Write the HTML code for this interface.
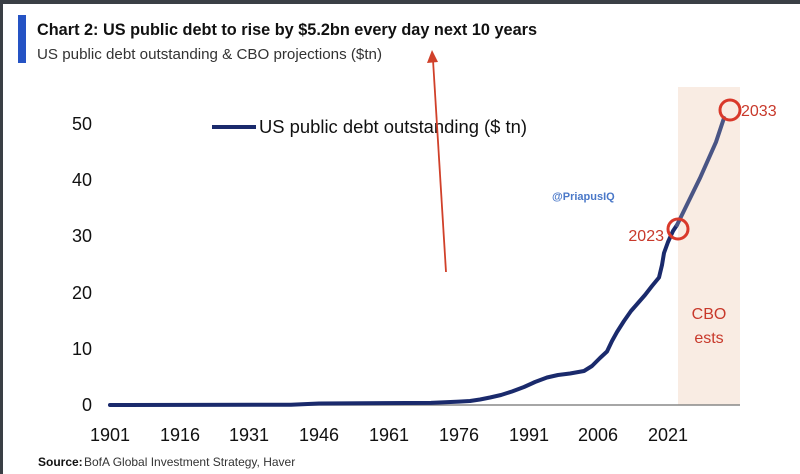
<!DOCTYPE html>
<html><head><meta charset="utf-8"><style>
body{margin:0;background:#fff;}
svg{display:block;font-family:"Liberation Sans",sans-serif;}
</style></head><body>
<svg width="800" height="474" viewBox="0 0 800 474">
<rect width="800" height="474" fill="#fff"/>
<rect x="0" y="0" width="800" height="4" fill="#3a3f45"/>
<rect x="0" y="0" width="3" height="474" fill="#3a3f45"/>
<rect x="18" y="15" width="8" height="48" fill="#2553c4"/>
<text x="37" y="35" font-size="17" font-weight="bold" fill="#111" textLength="500" lengthAdjust="spacingAndGlyphs">Chart 2: US public debt to rise by $5.2bn every day next 10 years</text>
<text x="37" y="59" font-size="15" fill="#333" textLength="345" lengthAdjust="spacingAndGlyphs">US public debt outstanding &amp; CBO projections ($tn)</text>
<rect x="678" y="87" width="62" height="318" fill="#f9ece3"/>
<g font-size="18" fill="#111" text-anchor="end">
<text x="92" y="411">0</text><text x="92" y="355">10</text><text x="92" y="299">20</text>
<text x="92" y="242">30</text><text x="92" y="186">40</text><text x="92" y="130">50</text>
</g>
<line x1="108" y1="405" x2="740" y2="405" stroke="#888" stroke-width="1.5"/>
<g font-size="18" fill="#111" text-anchor="middle">
<text x="110" y="441">1901</text><text x="180" y="441">1916</text><text x="249" y="441">1931</text>
<text x="319" y="441">1946</text><text x="389" y="441">1961</text><text x="459" y="441">1976</text>
<text x="529" y="441">1991</text><text x="598" y="441">2006</text><text x="668" y="441">2021</text>
</g>
<text x="38" y="466" font-size="12" font-weight="bold" fill="#111">Source:</text>
<text x="84" y="466" font-size="12" fill="#333">BofA Global Investment Strategy, Haver</text>
<line x1="212" y1="127" x2="256" y2="127" stroke="#1a2a6c" stroke-width="4"/>
<text x="259" y="133" font-size="18" fill="#111" textLength="268" lengthAdjust="spacingAndGlyphs">US public debt outstanding ($ tn)</text>
<text x="552" y="200" font-size="11" font-weight="bold" fill="#4a78c8">@PriapusIQ</text>
<polyline fill="none" stroke="#1a2a6c" stroke-width="4" stroke-linejoin="round" stroke-linecap="round" points="110,405 291,404.7 319,403.5 431,402.9 459,401.6 470,401 480,399.5 490,397.5 501,395 512,391.5 524,387 535,382 547,377.5 558,375 570,373.5 584,371 592,366 600,358 607,351.5 612,341 617,332 624,321 631,311 638,303 645,295 652,286 659,277.5 662,265 664,253 668,242 673,231 677,225"/>
<polyline fill="none" stroke="#4a5585" stroke-width="4" stroke-linecap="round" points="677,225 700,178 716,142 724,118"/>
<circle cx="678" cy="229" r="10" fill="none" stroke="#d9392b" stroke-width="3"/>
<circle cx="730" cy="110" r="10" fill="none" stroke="#d9392b" stroke-width="3"/>
<text x="664" y="241" font-size="16" fill="#c8392b" text-anchor="end">2023</text>
<text x="741" y="116" font-size="16" fill="#c8392b">2033</text>
<text x="709" y="319" font-size="16" fill="#c8392b" text-anchor="middle">CBO</text>
<text x="709" y="343" font-size="16" fill="#c8392b" text-anchor="middle">ests</text>
<line x1="446" y1="272" x2="433" y2="60" stroke="#d0402a" stroke-width="1.8"/>
<polygon points="432,50 427,63 438,62" fill="#d0402a"/>
</svg>
</body></html>
